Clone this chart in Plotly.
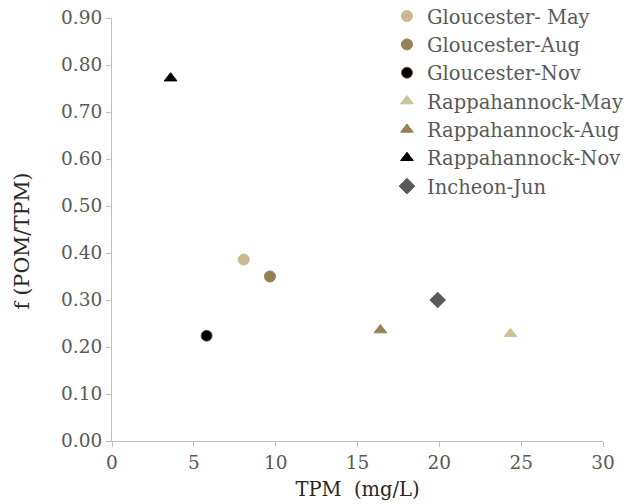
import plotly.graph_objects as go

series_names = ["Gloucester- May", "Gloucester-Aug", "Gloucester-Nov",
                "Rappahannock-May", "Rappahannock-Aug", "Rappahannock-Nov", "Incheon-Jun"]
tpm = [8.05, 9.65, 5.78, 24.35, 16.4, 3.58, 19.9]
f_ratio = [0.386, 0.350, 0.224, 0.228, 0.236, 0.772, 0.300]
symbols = ["circle", "circle", "circle", "triangle-up", "triangle-up", "triangle-up", "diamond"]
colors = ["#C9B992", "#958152", "#000000", "#CDC19B", "#958152", "#000000", "#595959"]
edge_colors = ["#C9B992", "#958152", "#6B5B3A", "#CDC19B", "#958152", "#000000", "#595959"]

x_ticks = [0, 5, 10, 15, 20, 25, 30]
y_ticks = [0.0, 0.1, 0.2, 0.3, 0.4, 0.5, 0.6, 0.7, 0.8, 0.9]
x_title = "TPM  (mg/L)"
y_title = "f (POM/TPM)"

FONT = "DejaVu Serif"
fig = go.Figure()
for name, x, y, s, c, e in zip(series_names, tpm, f_ratio, symbols, colors, edge_colors):
    fig.add_trace(go.Scatter(
        x=[x], y=[y], mode="markers", name=name,
        marker=dict(symbol=s, size=11 if s != "diamond" else 12, color=c,
                    line=dict(color=e, width=1)),
    ))

fig.add_annotation(text=y_title, xref="paper", yref="paper", x=-0.183, y=0.472,
                   textangle=-90, showarrow=False, xanchor="center", yanchor="middle",
                   font=dict(family=FONT, size=20.5, color="#262626"))

fig.update_layout(
    width=634, height=504,
    margin=dict(l=112, r=31, t=18, b=63, autoexpand=False),
    paper_bgcolor="white", plot_bgcolor="white",
    font=dict(family=FONT, color="#595959", size=18),
    xaxis=dict(range=[0, 30], tickvals=x_ticks, ticktext=[str(v) for v in x_ticks],
               showgrid=False, zeroline=False, showline=True, linecolor="#BFBFBF", linewidth=1,
               ticks="outside", ticklen=5, tickcolor="#BFBFBF",
               title=dict(text=x_title, font=dict(size=19.5, color="#262626"), standoff=10),
               tickfont=dict(size=18.5, color="#595959")),
    yaxis=dict(range=[0, 0.9], tickvals=y_ticks, ticktext=[f"{v:.2f}" for v in y_ticks],
               showgrid=False, zeroline=False, showline=True, linecolor="#BFBFBF", linewidth=1,
               ticks="outside", ticklen=5, tickcolor="#BFBFBF",
               tickfont=dict(size=18.5, color="#595959")),
    legend=dict(x=0.56, y=1.05, xanchor="left", yanchor="top", bgcolor="rgba(0,0,0,0)",
                font=dict(size=19.5, color="#595959"), tracegroupgap=0, itemwidth=30),
    showlegend=True,
)
fig.write_html("out.html")
